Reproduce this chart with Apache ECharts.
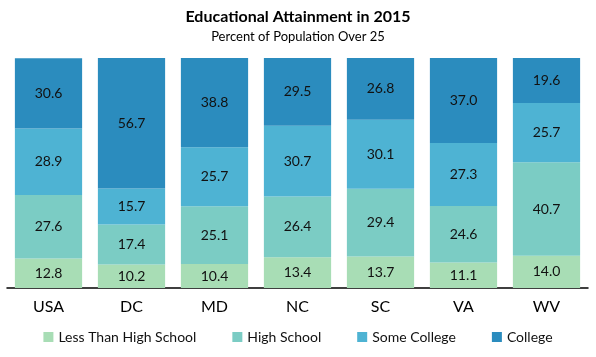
<!DOCTYPE html>
<html><head><meta charset="utf-8">
<script src="https://cdn.jsdelivr.net/npm/echarts@6/dist/echarts.min.js"></script>
<style>html,body{margin:0;padding:0;background:#fff}#c{width:596px;height:357px}</style>
</head><body><div id="c"></div>
<script>
const categories = ['USA','DC','MD','NC','SC','VA','WV'];
const lessThanHS = [12.8,10.2,10.4,13.4,13.7,11.1,14.0];
const highSchool = [27.6,17.4,25.1,26.4,29.4,24.6,40.7];
const someCollege = [28.9,15.7,25.7,30.7,30.1,27.3,25.7];
const college = [30.6,56.7,38.8,29.5,26.8,37.0,19.6];
const seriesNames = ['Less Than High School','High School','Some College','College'];
const colors = ['#a8ddb5','#7bccc4','#4eb3d3','#2b8cbe'];
const F = 'Lato, "Open Sans", sans-serif';
const chart = echarts.init(document.getElementById('c'));
const mk = (name, data, i) => ({
  name, type:'bar', stack:'a', data, barCategoryGap:'19%',
  itemStyle:{color:colors[i]},
  label:{show:true, position:'inside', color:'#111', fontFamily:F, fontSize:14, formatter:p=>p.value.toFixed(1)}
});
chart.setOption({
  animation:false,
  title:{text:'Educational Attainment in 2015', subtext:'Percent of Population Over 25', left:'center', top:4, itemGap:5,
    textStyle:{fontFamily:F, fontSize:16, fontWeight:'bold', color:'#000'},
    subtextStyle:{fontFamily:F, fontSize:13, color:'#000'}},
  legend:{bottom:8, left:'center', itemWidth:10, itemHeight:10, itemGap:36, icon:'rect',
    textStyle:{fontFamily:F, fontSize:14, color:'#111'}, data:seriesNames},
  grid:{left:7, right:8, top:58, bottom:69, containLabel:false},
  xAxis:{type:'category', data:categories, axisTick:{show:false},
    axisLine:{lineStyle:{color:'#000', width:1.5}},
    axisLabel:{fontFamily:F, fontSize:16, color:'#000', margin:11}},
  yAxis:{type:'value', min:0, max:100, show:false, splitLine:{show:false}},
  series:[mk(seriesNames[0], lessThanHS,0), mk(seriesNames[1], highSchool,1), mk(seriesNames[2], someCollege,2), mk(seriesNames[3], college,3)]
});
</script></body></html>
